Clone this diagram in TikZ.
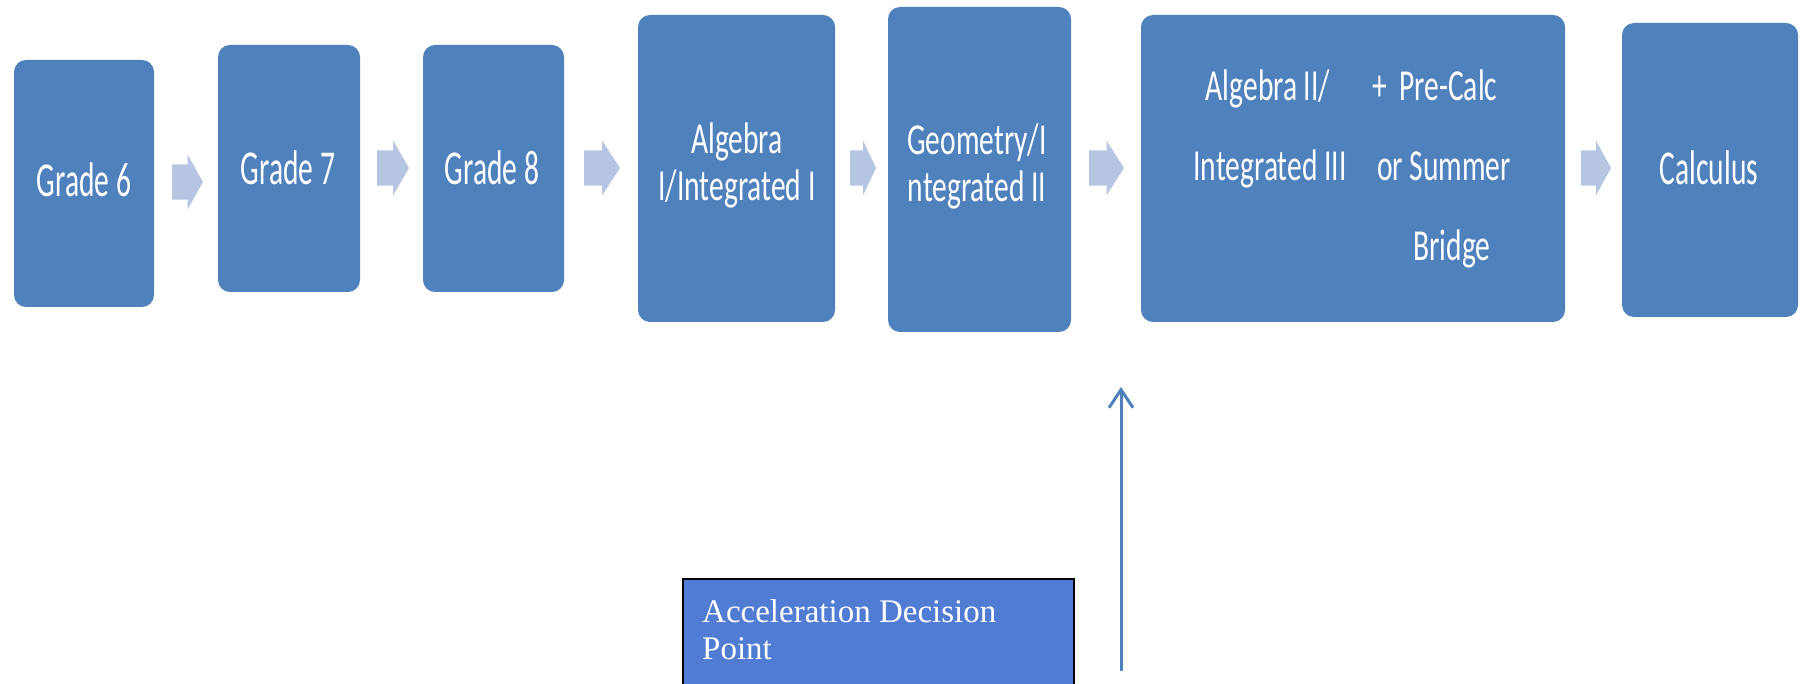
\documentclass[tikz,border=0pt]{standalone}
\usepackage{fontspec}
\usepackage{graphicx}
\setmainfont{Carlito}
\newfontfamily\accfont{Liberation Serif}
\usetikzlibrary{arrows.meta}
\definecolor{boxblue}{HTML}{4F81BD}
\definecolor{chevron}{HTML}{B6C6E2}
\definecolor{accblue}{HTML}{507CD3}
\newcommand{\vstretch}[2]{\scalebox{1}[#1]{#2}}
\tikzset{
  stepbox/.style={fill=boxblue, rounded corners=12pt, inner sep=0pt},
  steptext/.style={text=white, inner sep=0pt, anchor=base, font=\fontsize{29.5}{35}\selectfont},
  pics/barrow/.style n args={2}{code={
    \fill[chevron] (0,-0.32*#2) -- (0.5*#1,-0.32*#2) -- (0.5*#1,-0.5*#2) -- (#1,0)
      -- (0.5*#1,0.5*#2) -- (0.5*#1,0.32*#2) -- (0,0.32*#2) -- cycle;}},
  accbox/.style={fill=accblue, draw=black, line width=2pt, inner sep=0pt},
  acctext/.style={text=white, inner sep=0pt, align=left, font=\accfont\fontsize{33}{37}\selectfont},
  uparrow/.style={draw=boxblue, line width=3pt, -{Straight Barb[length=18pt,width=24pt]}},
}
\begin{document}
\begin{tikzpicture}[x=1pt,y=-1pt]
\useasboundingbox (0,0) rectangle (1802,684);
\clip (0,0) rectangle (1802,684);
\fill[white] (0,0) rectangle (1802,684);

% boxes
\node[stepbox, minimum width=140, minimum height=247] (g6) at (84,183.5) {};
\node[stepbox, minimum width=142, minimum height=247] (g7) at (289,168.5) {};
\node[stepbox, minimum width=141, minimum height=247] (g8) at (493.5,168.5) {};
\node[stepbox, minimum width=197, minimum height=307] (alg1) at (736.5,168.5) {};
\node[stepbox, minimum width=183, minimum height=325] (geo) at (979.5,169.5) {};
\node[stepbox, minimum width=424, minimum height=307] (alg2) at (1353,168.5) {};
\node[stepbox, minimum width=176, minimum height=294] (calc) at (1710,170) {};

% texts
\node[steptext] (g6t) at (84,197) {\vstretch{1.65}{Grade 6}};
\node[steptext] (g7t) at (288,185) {\vstretch{1.65}{Grade 7}};
\node[steptext] (g8t) at (492,185) {\vstretch{1.65}{Grade 8}};
\node[steptext] (alg1a) at (737,154) {\vstretch{1.5}{Algebra}};
\node[steptext] (alg1b) at (737,201) {\vstretch{1.5}{I/Integrated I}};
\node[steptext] (geoa) at (977,155) {\vstretch{1.5}{Geometry/I}};
\node[steptext] (geob) at (977,202) {\vstretch{1.5}{ntegrated II}};
\node[steptext] (t1) at (1268,101) {\vstretch{1.5}{Algebra II/}};
\node[steptext] (t2) at (1270,181) {\vstretch{1.5}{Integrated III}};
\node[steptext] (t3) at (1435,101) {\vstretch{1.5}{+\hspace{12pt}Pre-Calc}};
\node[steptext] (t4) at (1444,181) {\vstretch{1.5}{or Summer}};
\node[steptext] (t5) at (1452,261) {\vstretch{1.5}{Bridge}};
\node[steptext] (calct) at (1709,185) {\vstretch{1.65}{Calculus}};

% chevron arrows
\pic (a1) at (172,182) {barrow={31}{55}};
\pic (a2) at (377,168) {barrow={32}{55}};
\pic (a3) at (584,168) {barrow={36}{55}};
\pic (a4) at (850,168) {barrow={26}{55}};
\pic (a5) at (1089,168) {barrow={35}{55}};
\pic (a6) at (1581,168) {barrow={30}{55}};

% acceleration decision point
\node[accbox, minimum width=391, minimum height=130, anchor=north west] (acc) at (682,578) {};
\node[acctext, anchor=north west] (acct) at (702,599.5) {Acceleration Decision\\Point};

\coordinate (ap1) at (1121,671);
\coordinate (ap2) at (1121,387);
\draw[uparrow] (ap1) -- (ap2);
\end{tikzpicture}
\end{document}
